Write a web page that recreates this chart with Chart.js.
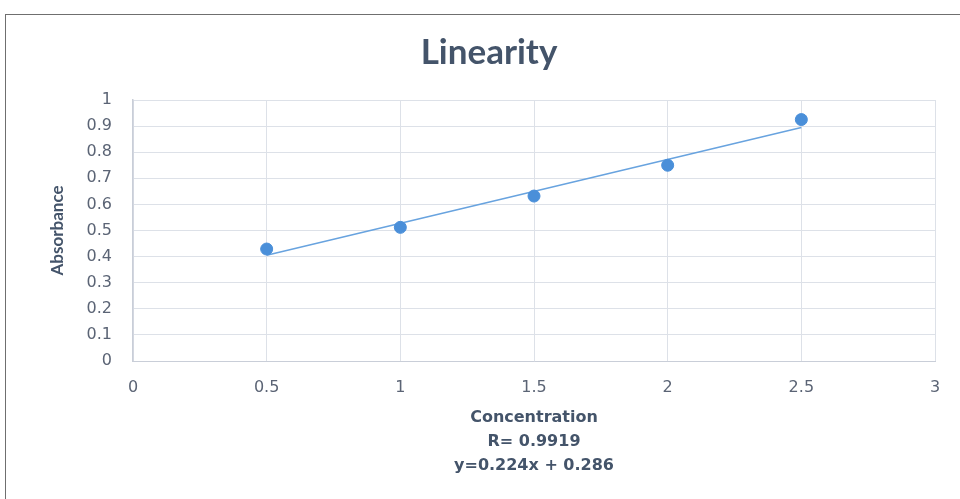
<!DOCTYPE html>
<html>
<head>
<meta charset="utf-8">
<script src="https://cdn.jsdelivr.net/npm/chart.js@4"></script>
<style>
  html, body { margin: 0; padding: 0; background: #fff; overflow: hidden; }
  #frame { position: absolute; left: 5px; top: 14px; width: 960px; height: 490px;
           border-left: 1px solid #6f6f6f; border-top: 1px solid #6f6f6f; }
  #wrap { position: absolute; left: 0; top: 0; width: 960px; height: 499px; }
</style>
</head>
<body>
<div id="frame"></div>
<div id="wrap"><canvas id="linearityChart" width="960" height="499"></canvas></div>
<script>
// data
const concentration = [0.5, 1, 1.5, 2, 2.5];
const absorbance = [0.429, 0.512, 0.632, 0.75, 0.925];
// linear trendline endpoints
const trendX = [0.5, 2.5];
const trendY = [0.405, 0.895];
const xTitleLines = ['Concentration', 'R= 0.9919', 'y=0.224x + 0.286'];

const slate = '#44546a';
const tickGrey = '#5b6475';
const fmt = v => Number(v.toFixed(1)).toString();

const ctx = document.getElementById('linearityChart').getContext('2d');
const myChart = new Chart(ctx, {
    type: 'scatter',
    data: {
        datasets: [{
            label: 'Absorbance',
            data: concentration.map((x, i) => ({ x: x, y: absorbance[i] })),
            backgroundColor: '#4a8fd9',
            borderColor: '#4a8fd9',
            borderWidth: 1,
            pointRadius: 6,
            order: 1
        }, {
            label: 'Linear trend',
            data: trendX.map((x, i) => ({ x: x, y: trendY[i] })),
            showLine: true,
            borderColor: '#68a3df',
            borderWidth: 1.5,
            pointRadius: 0,
            order: 2
        }]
    },
    options: {
        responsive: false,
        animation: false,
        devicePixelRatio: 1,
        layout: { padding: { left: 43, right: 25, top: 0, bottom: 0 } },
        plugins: {
            legend: { display: false },
            tooltip: { enabled: false },
            title: {
                display: true,
                text: 'Linearity',
                color: slate,
                font: { family: 'Lato', size: 35, weight: 'bold', lineHeight: 1.2 },
                padding: { top: 32, bottom: 26 }
            }
        },
        scales: {
            x: {
                type: 'linear',
                min: 0,
                max: 3,
                afterFit: s => { s.height = 138; },
                ticks: {
                    stepSize: 0.5,
                    padding: 17,
                    color: tickGrey,
                    font: { family: 'DejaVu Sans', size: 16 },
                    callback: fmt
                },
                grid: { color: '#dde1e8', lineWidth: 1, drawTicks: false },
                border: { color: '#c9ced8', width: 1 },
                title: {
                    display: true,
                    text: xTitleLines,
                    color: slate,
                    font: { family: 'DejaVu Sans', size: 16, weight: 'bold', lineHeight: 1.5 },
                    padding: { top: 4, bottom: 21 }
                }
            },
            y: {
                min: 0,
                max: 1,
                afterFit: s => { s.width = 90; },
                ticks: {
                    stepSize: 0.1,
                    padding: 21,
                    color: tickGrey,
                    font: { family: 'DejaVu Sans', size: 16 },
                    callback: fmt
                },
                grid: { color: '#dde1e8', lineWidth: 1, drawTicks: false },
                border: { color: '#c9ced8', width: 1.5 },
                title: {
                    display: true,
                    text: 'Absorbance',
                    color: slate,
                    font: { family: 'Lato', size: 17, weight: 'bold', lineHeight: 1.2 },
                    padding: { top: 4, bottom: 0 }
                }
            }
        }
    }
});
</script>
</body>
</html>
